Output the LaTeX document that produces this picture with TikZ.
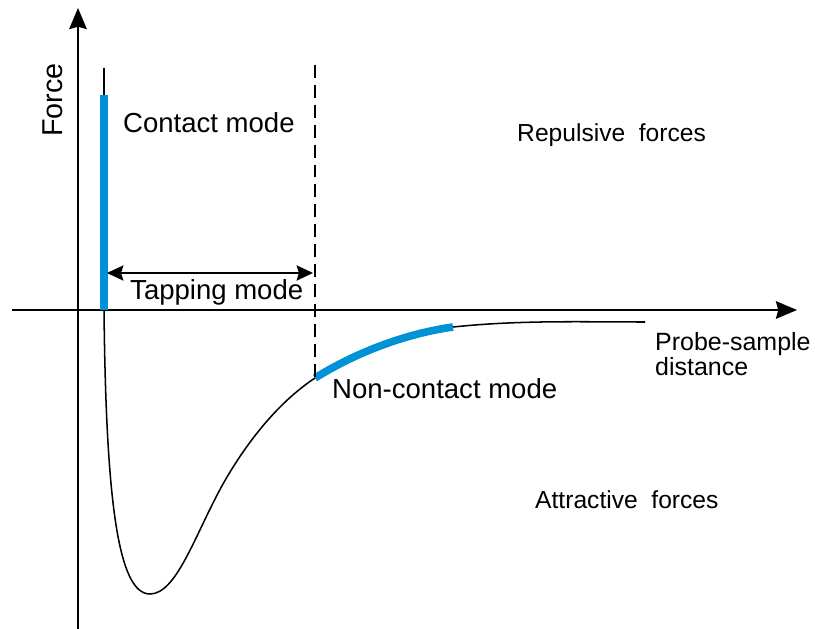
\documentclass[tikz,border=0pt]{standalone}
\usepackage{fontspec}
\setmainfont{Liberation Sans}
\usetikzlibrary{arrows.meta}
\definecolor{modeblue}{RGB}{0,146,214}
\tikzset{
	axisline/.style={line width=1.6pt, -{Stealth[length=18pt, width=15pt, inset=2pt]}},
	curveline/.style={line width=1.3pt},
	modeline/.style={line width=6.5pt, color=modeblue},
	bigtext/.style={inner sep=0pt, anchor=base west, font=\fontsize{23.5pt}{26pt}\selectfont},
	smalltext/.style={inner sep=0pt, anchor=base west, font=\fontsize{21pt}{25pt}\selectfont}
}

\begin{document}
\begin{tikzpicture}[x=0.03cm, y=-0.03cm]
			%%%%% START %%%%%
			\useasboundingbox (0, 0) rectangle (815, 629);
			
			% axes
			\draw[axisline] (12, 310) -- (797, 310);
			\draw[axisline] (78, 629) -- (78, 8);
			
			% force curve
			\coordinate (top) at (104, 68);
			\coordinate (blue1) at (104, 95);
			\coordinate (zero) at (104, 310);
			\coordinate (bottom) at (150, 594);
			\coordinate (rise) at (227, 477);
			\coordinate (blue2) at (315, 378);
			\coordinate (blue3) at (453, 327);
			\coordinate (tail) at (645, 322);
			
			\draw[curveline] (top) -- (zero) .. controls (106, 500) and (118, 594) .. (bottom)
				.. controls (178, 594) and (197, 528) .. (rise)
				.. controls (255, 430) and (285, 398) .. (blue2)
				.. controls (360, 350) and (410, 333) .. (blue3)
				.. controls (520, 320) and (580, 322) .. (tail);
			\draw[modeline] (blue1) -- (zero);
			\draw[modeline] (blue2) .. controls (360, 350) and (410, 333) .. (blue3);
			
			% limit of contact modes
			\coordinate (dtop) at (315, 65);
			\draw[line width=1.2pt, dash pattern=on 11pt off 6pt] (dtop) -- (blue2);
			
			\coordinate (tapl) at (107, 273);
			\coordinate (tapr) at (313, 273);
			\draw[line width=1.3pt, {Stealth[length=14pt, width=13pt, inset=2pt]}-{Stealth[length=14pt, width=13pt, inset=2pt]}] (tapl) -- (tapr);
			
			% labels
			\node[bigtext, rotate=90, font=\fontsize{24.5pt}{28pt}\selectfont] (force) at (62, 137) {Force};
			\node[bigtext] (contact) at (123, 133) {Contact mode};
			\node[bigtext] (tapping) at (130, 300) {Tapping mode};
			\node[bigtext] (noncontact) at (332, 398) {Non-contact mode};
			\node[smalltext] (repulsive) at (517, 142) {Repulsive\ \ forces};
			\node[smalltext] (attractive) at (535, 508) {Attractive\ \ forces};
			\node[smalltext, align=left, anchor=north west, font=\fontsize{21.3pt}{21.5pt}\selectfont] (distance) at (655, 332) {Probe-sample\\distance};
			
			%%%%% END %%%%%
		\end{tikzpicture}
\end{document}
